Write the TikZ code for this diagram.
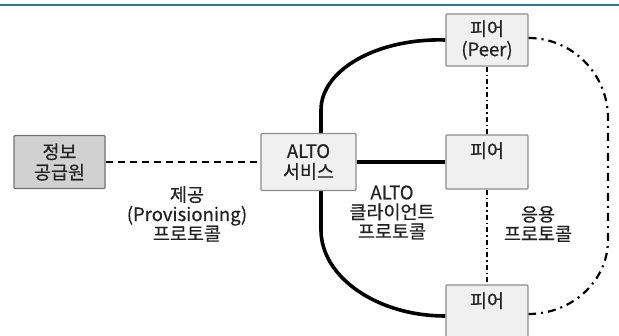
\documentclass[tikz,border=0pt]{standalone}
\usepackage{fontspec}
\setmainfont{Noto Sans CJK KR}[FakeBold=0.6]
\usetikzlibrary{backgrounds}
\definecolor{ruleblue}{RGB}{46,117,182}
\definecolor{txtgray}{RGB}{35,35,35}
\begin{document}
\begin{tikzpicture}[x=1pt,y=1pt,
  box/.style={draw=black!45,fill=black!6,line width=1.2pt,rounded corners=1pt,
    align=center,inner sep=0pt,text=txtgray,font=\fontsize{18.5}{20.5}\selectfont},
  peer/.style={box,minimum width=82pt,minimum height=54pt},
  lbl/.style={align=center,text=txtgray,font=\fontsize{18.5}{19.5}\selectfont},
  thickline/.style={line width=3.6pt},
  dashdot/.style={line width=1.3pt,dash pattern=on 5pt off 3pt on 1.5pt off 3pt}]
\useasboundingbox (0,0) rectangle (619,336);
\clip (0,0) rectangle (619,336);
\draw[ruleblue,line width=2pt] (0,331) -- (619,331);
% boxes
\node[box,fill=black!18,draw=black!55,minimum width=91pt,minimum height=53pt] (info) at (59.5,174) {정보\\공급원};
\node[box,minimum width=95pt,minimum height=57pt] (alto) at (308.5,174) {ALTO\\서비스};
\node[peer,minimum height=52pt] (p1) at (487,296) {피어\\(Peer)};
\node[peer] (p2) at (487,174) {피어\\\phantom{(Peer)}};
\node[peer] (p3) at (487,24) {피어\\\phantom{(Peer)}};
% links
\draw[line width=1.8pt,dash pattern=on 7pt off 5pt] (info) -- (alto);
\draw[thickline] (alto) -- (p2);
\begin{scope}[on background layer]
\draw[thickline] (p1.west) .. controls (377,298) and (321,266) .. (321,226)
  -- (321,106) .. controls (321,59) and (377,20) .. ([yshift=-4pt]p3.west);
\end{scope}
\draw[dashdot] (p1) -- (p2);
\draw[dashdot] (p2) -- (p3);
\draw[line width=2.2pt,dash pattern=on 8pt off 5pt on 2pt off 5pt]
  ([yshift=2pt]p1.east) .. controls (572,298) and (608,262) .. (608,218)
  -- (608,96) .. controls (608,55) and (572,22) .. ([yshift=-2pt]p3.east);
% protocol labels
\node[lbl] (prov) at (187,122) {제공\\(Provisioning)\\프로토콜};
\node[lbl] (client) at (392,123.5) {ALTO\\클라이언트\\프로토콜};
\node[lbl] (app) at (538,112) {응용\\프로토콜};
\end{tikzpicture}
\end{document}
